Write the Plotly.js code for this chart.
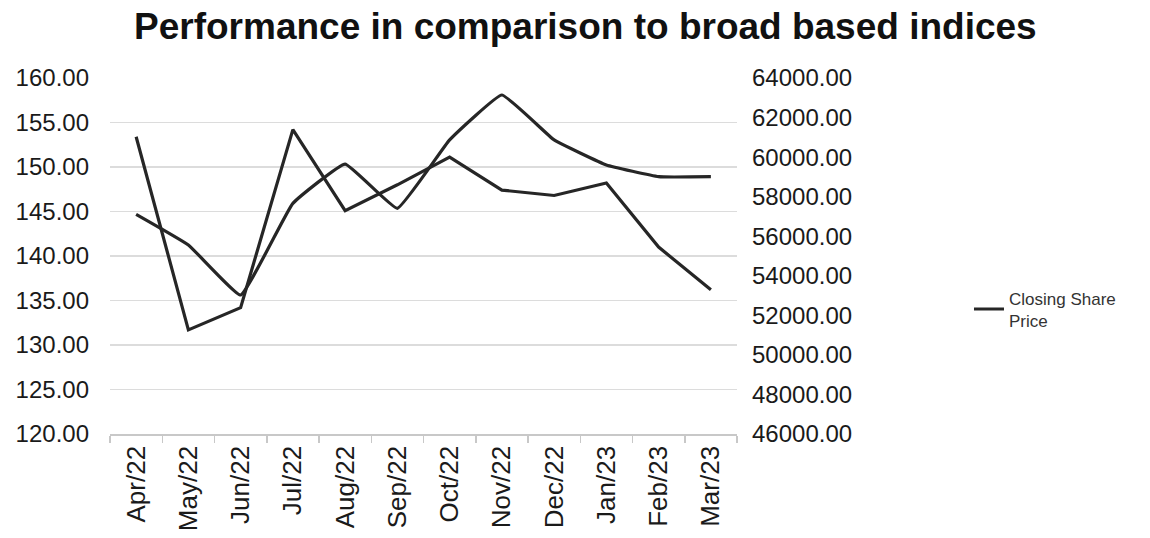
<!DOCTYPE html>
<html>
<head>
<meta charset="utf-8">
<script src="https://cdn.plot.ly/plotly-3.0.1.min.js"></script>
<style>html,body{margin:0;padding:0;background:#fff;}#chart{width:1150px;height:538px;}</style>
</head>
<body>
<div id="chart"></div>
<script>
const months = ["Apr/22","May/22","Jun/22","Jul/22","Aug/22","Sep/22","Oct/22","Nov/22","Dec/22","Jan/23","Feb/23","Mar/23"];
const closingSharePrice = [153.4, 131.7, 134.2, 154.2, 145.1, 148.0, 151.1, 147.4, 146.8, 148.2, 141.0, 136.2];
const broadIndex = [57110, 55560, 53030, 57660, 59650, 57410, 60870, 63140, 60870, 59600, 59010, 59010];
const leftTicks = [120,125,130,135,140,145,150,155,160];
const rightTicks = [46000,48000,50000,52000,54000,56000,58000,60000,62000,64000];

const lineColor = '#262626';
const fam = 'Liberation Sans, Arial, sans-serif';
const traces = [
  {x: months, y: closingSharePrice, type: 'scatter', mode: 'lines', name: 'Closing Share<br>Price',
   line: {color: lineColor, width: 3.2}, yaxis: 'y'},
  {x: months, y: broadIndex, type: 'scatter', mode: 'lines', name: 'Index',
   line: {color: lineColor, width: 3.2, shape: 'spline', smoothing: 0.3}, yaxis: 'y2', showlegend: false}
];
const tickFont = {family: fam, size: 24, color: '#1a1a1a'};
const layout = {
  width: 1150, height: 538,
  margin: {l: 110, r: 413, t: 78, b: 104},
  paper_bgcolor: '#fff', plot_bgcolor: '#fff',
  title: {text: '<b>Performance in comparison to broad based indices</b>',
          font: {family: fam, size: 37, color: '#111'},
          x: 0.509, xref: 'container', xanchor: 'center', y: 0.952, yref: 'container', yanchor: 'middle'},
  xaxis: {type: 'category', tickangle: -90, tickfont: {family: fam, size: 26, color: '#1a1a1a'},
          showgrid: false, showline: true, linecolor: '#c8c8c8', linewidth: 1.5,
          ticks: 'outside', tickson: 'boundaries', ticklen: 7, tickcolor: '#c8c8c8', tickwidth: 1.5,
          range: [-0.5, 11.5], fixedrange: true, automargin: false},
  yaxis: {range: [120, 160], tickvals: leftTicks, tickformat: '.2f', tickfont: tickFont,
          showgrid: true, gridcolor: '#dcdcdc', gridwidth: 1.5, zeroline: false, showline: false,
          ticks: '', ticklabelstandoff: 20, automargin: false},
  yaxis2: {range: [46000, 64000], tickvals: rightTicks, tickformat: '.2f', tickfont: tickFont,
           overlaying: 'y', side: 'right', showgrid: false, zeroline: false, showline: false,
           ticks: '', ticklabelstandoff: 14, automargin: false},
  showlegend: true,
  legend: {x: 1.37, xanchor: 'left', y: 0.35, yanchor: 'middle', xref: 'paper', yref: 'paper',
           font: {family: fam, size: 17, color: '#333'},
           bgcolor: 'rgba(0,0,0,0)', itemwidth: 30, tracegroupgap: 0}
};
Plotly.newPlot('chart', traces, layout, {staticPlot: true, displayModeBar: false});
</script>
</body>
</html>
